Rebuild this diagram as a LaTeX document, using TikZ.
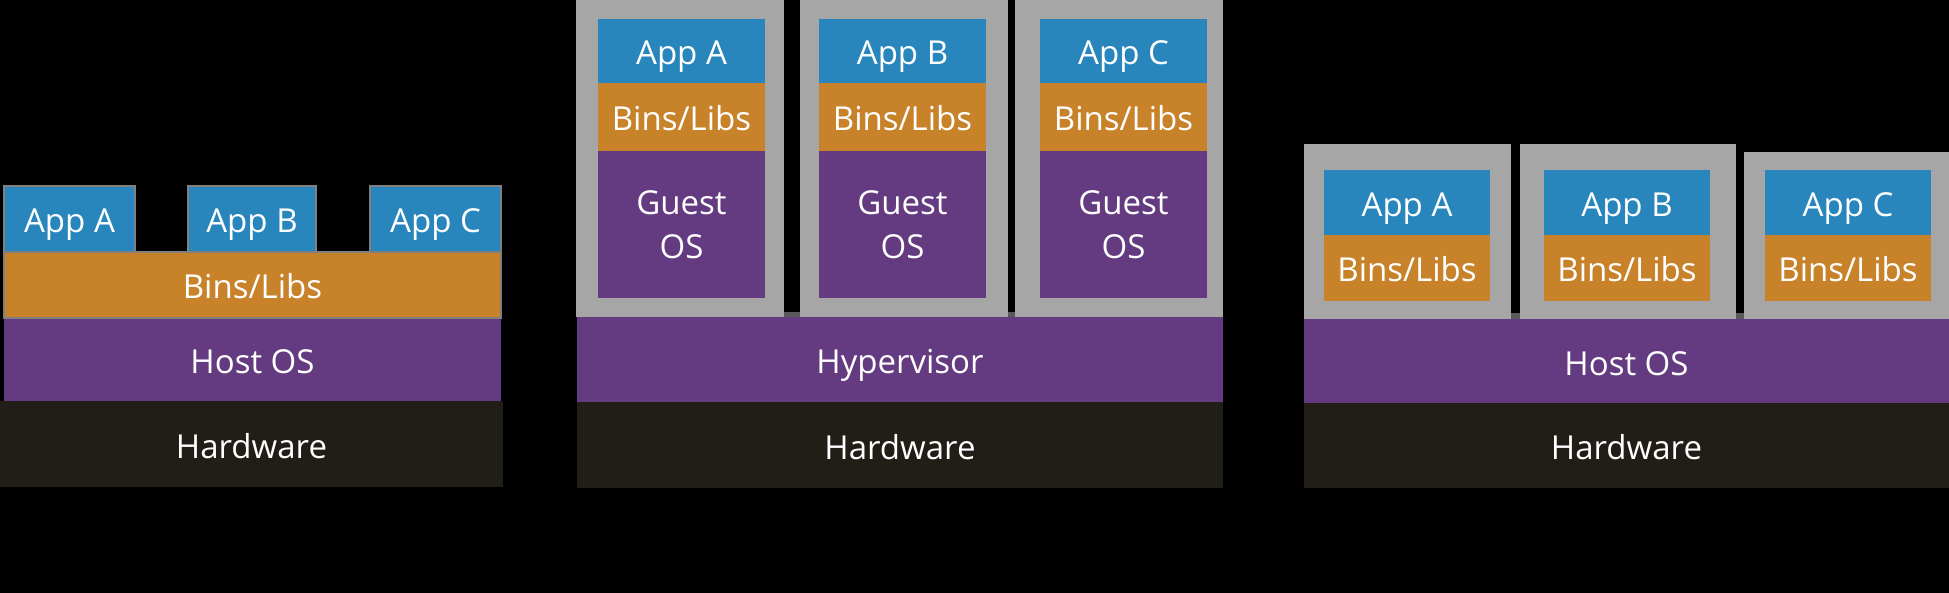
\documentclass[tikz,border=0pt]{standalone}
\usepackage{fontspec}
\setmainfont{Open Sans}
\definecolor{appblue}{RGB}{41,134,188}
\definecolor{binsorange}{RGB}{200,130,42}
\definecolor{ospurple}{RGB}{100,59,128}
\definecolor{hwdark}{RGB}{33,29,23}
\definecolor{vmgrey}{RGB}{166,166,166}
\definecolor{edgegrey}{RGB}{128,128,128}
\definecolor{stripgrey}{RGB}{89,89,89}
\begin{document}
\begin{tikzpicture}[x=0.5pt,y=-0.5pt,
  lbl/.style={text=white,inner sep=0pt,yshift=-1pt,font=\fontsize{16.5}{22}\selectfont,text height=12pt,text depth=0pt},
  twolbl/.style={text=white,inner sep=0pt,align=center,font=\fontsize{16.5}{22}\selectfont}]
  \fill[black] (0,0) rectangle (1949,593);
  \useasboundingbox (0,0) rectangle (1949,593);
  % left: apps on one host
  \fill[hwdark] (0,401) rectangle (503,487);
  \fill[ospurple] (4,318) rectangle (501,401);
  \draw[fill=binsorange,draw=edgegrey,line width=1pt] (4,252) rectangle (501,318);
  \draw[fill=appblue,draw=edgegrey,line width=1pt] (4,186) rectangle (135,252);
  \draw[fill=appblue,draw=edgegrey,line width=1pt] (188,186) rectangle (316,252);
  \draw[fill=appblue,draw=edgegrey,line width=1pt] (370,186) rectangle (501,252);
  \node[lbl] (lhw) at (251.5,444) {Hardware};
  \node[lbl] (los) at (252.5,359.5) {Host OS};
  \node[lbl] (lbins) at (252.5,285) {Bins/Libs};
  \node[lbl] (lappA) at (69.5,219) {App A};
  \node[lbl] (lappB) at (252,219) {App B};
  \node[lbl] (lappC) at (435.5,219) {App C};
  % middle: virtual machines
  \fill[hwdark] (577,402) rectangle (1223,488);
  \fill[ospurple] (577,317) rectangle (1223,402);
  \fill[stripgrey] (784,312) rectangle (800,317);
  \fill[stripgrey] (1008,312) rectangle (1015,317);
  \node[lbl] (vhw) at (900,445) {Hardware};
  \node[lbl] (vhyp) at (900,359.5) {Hypervisor};
  \foreach \gx/\ix/\n in {576/598/A,800/819/B,1015/1040/C} {
    \fill[vmgrey] (\gx,0) rectangle (\gx+208,317);
    \fill[appblue] (\ix,19) rectangle (\ix+167,83);
    \fill[binsorange] (\ix,83) rectangle (\ix+167,151);
    \fill[ospurple] (\ix,151) rectangle (\ix+167,298);
    \node[lbl] (vapp\n) at (\ix+83.5,51) {App \n};
    \node[lbl] (vbins\n) at (\ix+83.5,117) {Bins/Libs};
    \node[twolbl] (vguest\n) at (\ix+83.5,224.5) {Guest\\OS};
  }
  % right: containers
  \fill[hwdark] (1304,403) rectangle (1949,488);
  \fill[ospurple] (1304,319) rectangle (1949,403);
  \fill[stripgrey] (1511,313) rectangle (1520,319);
  \fill[stripgrey] (1736,313) rectangle (1744,319);
  \node[lbl] (chw) at (1626.5,445.5) {Hardware};
  \node[lbl] (cos) at (1626.5,361) {Host OS};
  \foreach \gx/\gw/\gy/\ix/\n in {1304/207/144/1324/A,1520/216/144/1544/B,1744/205/152/1765/C} {
    \fill[vmgrey] (\gx,\gy) rectangle (\gx+\gw,319);
    \fill[appblue] (\ix,170) rectangle (\ix+166,235);
    \fill[binsorange] (\ix,235) rectangle (\ix+166,301);
    \node[lbl] (capp\n) at (\ix+83,202.5) {App \n};
    \node[lbl] (cbins\n) at (\ix+83,268) {Bins/Libs};
  }
\end{tikzpicture}
\end{document}
